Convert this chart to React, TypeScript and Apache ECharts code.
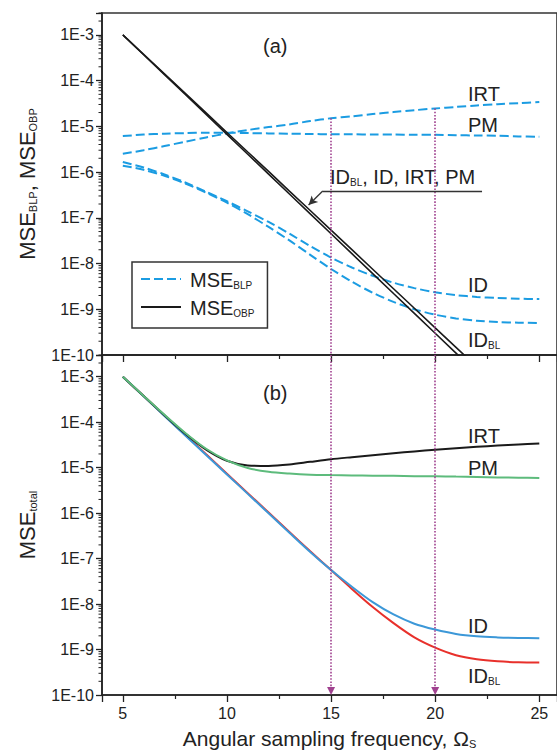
import React, { useEffect, useRef } from "react";
import * as echarts from "echarts";

// ---------- data ----------
const OMEGA = [5, 6, 7, 8, 9, 10, 11, 12, 13, 14, 15, 16, 17, 18, 19, 20, 21, 22, 23, 24, 25];

// (a) MSE_BLP (dashed blue)
const BLP_IRT = [2.5e-6, 3.0e-6, 3.7e-6, 4.6e-6, 5.7e-6, 7.0e-6, 8.3e-6, 9.6e-6, 1.1e-5, 1.3e-5, 1.5e-5, 1.65e-5, 1.85e-5, 2.05e-5, 2.25e-5, 2.45e-5, 2.65e-5, 2.85e-5, 3.05e-5, 3.2e-5, 3.4e-5];
const BLP_PM = [6.1e-6, 6.6e-6, 6.9e-6, 7.1e-6, 7.25e-6, 7.25e-6, 7.1e-6, 7.0e-6, 6.9e-6, 6.8e-6, 6.7e-6, 6.7e-6, 6.6e-6, 6.6e-6, 6.5e-6, 6.5e-6, 6.4e-6, 6.3e-6, 6.2e-6, 6.0e-6, 5.9e-6];
const BLP_ID = [1.66e-6, 1.26e-6, 8.9e-7, 5.9e-7, 3.7e-7, 2.3e-7, 1.38e-7, 8.1e-8, 4.5e-8, 2.4e-8, 1.35e-8, 8.2e-9, 5.4e-9, 3.8e-9, 2.9e-9, 2.35e-9, 2.04e-9, 1.86e-9, 1.76e-9, 1.7e-9, 1.67e-9];
const BLP_IDBL = [1.38e-6, 1.12e-6, 8.3e-7, 5.6e-7, 3.55e-7, 2.14e-7, 1.2e-7, 6.3e-8, 3.2e-8, 1.55e-8, 7.6e-9, 4.0e-9, 2.3e-9, 1.45e-9, 1.0e-9, 7.6e-10, 6.3e-10, 5.6e-10, 5.25e-10, 5.1e-10, 5.0e-10];

// (a) MSE_OBP (solid black, omega 5..22)
const OBP_A = [1e-3, 3.74e-4, 1.4e-4, 5.24e-5, 1.96e-5, 7.33e-6, 2.74e-6, 1.03e-6, 3.84e-7, 1.44e-7, 5.37e-8, 2.01e-8, 7.5e-9, 2.81e-9, 1.05e-9, 3.93e-10, 1.47e-10, 5.5e-11];
const OBP_B = [1e-3, 3.67e-4, 1.35e-4, 4.97e-5, 1.82e-5, 6.68e-6, 2.45e-6, 9.02e-7, 3.31e-7, 1.22e-7, 4.47e-8, 1.64e-8, 6.03e-9, 2.21e-9, 8.13e-10, 2.99e-10, 1.1e-10, 4.03e-11];

// (b) MSE_total
const TOT_IRT = [1.0e-3, 3.75e-4, 1.42e-4, 5.6e-5, 2.5e-5, 1.42e-5, 1.12e-5, 1.09e-5, 1.17e-5, 1.34e-5, 1.53e-5, 1.7e-5, 1.88e-5, 2.07e-5, 2.27e-5, 2.47e-5, 2.67e-5, 2.87e-5, 3.05e-5, 3.22e-5, 3.4e-5];
const TOT_PM = [1.0e-3, 3.78e-4, 1.45e-4, 5.8e-5, 2.6e-5, 1.44e-5, 9.8e-6, 8.1e-6, 7.4e-6, 7.0e-6, 6.85e-6, 6.75e-6, 6.65e-6, 6.6e-6, 6.5e-6, 6.45e-6, 6.35e-6, 6.25e-6, 6.1e-6, 6.0e-6, 5.9e-6];
const TOT_ID = [1.0e-3, 3.7e-4, 1.37e-4, 5.1e-5, 1.9e-5, 7.1e-6, 2.65e-6, 9.9e-7, 3.7e-7, 1.4e-7, 5.6e-8, 2.4e-8, 1.1e-8, 5.9e-9, 3.7e-9, 2.75e-9, 2.2e-9, 1.95e-9, 1.85e-9, 1.8e-9, 1.78e-9];
const TOT_IDBL = [1.0e-3, 3.75e-4, 1.4e-4, 5.25e-5, 1.96e-5, 7.35e-6, 2.75e-6, 1.03e-6, 3.85e-7, 1.45e-7, 5.6e-8, 2.15e-8, 8.6e-9, 3.8e-9, 1.85e-9, 1.1e-9, 7.5e-10, 6.1e-10, 5.5e-10, 5.25e-10, 5.2e-10];

// marked sampling frequencies
const MARKED_OMEGA = [15, 20];

// axis ranges / tick labels
const X_MIN = 4;
const X_MAX = 25.85;
const Y_MIN = 1e-10;
const Y_MAX = 3.0e-3;
const Y_DECADES = [-10, -9, -8, -7, -6, -5, -4, -3];
const MINOR_MULT = [2, 3, 4, 5, 6, 7, 8, 9];

// annotation anchor (data coords) for "ID_BL, ID, IRT, PM" leader
const LEADER = { xEnd: 22.25, xKnee: 14.6, yLine: 3.85e-7, xTip: 13.92, yTip: 1.9e-7 };

// ---------- styling ----------
const FONT = "'Liberation Sans', Arial, Helvetica, sans-serif";
const INK = "#222";
const BLUE_DASH = "#1b9ce2";
const BLUE = "#3c98d8";
const RED = "#e8302b";
const GREEN = "#5dbb7c";
const BLACK = "#1a1a1a";
const PURPLE = "#a0418f";

const richText = (main: number, sub: number, padLeft = 0) => ({
  m: { fontSize: main, lineHeight: main + 2, fontFamily: FONT, color: INK, verticalAlign: "bottom" },
  p: { fontSize: main, lineHeight: main + 2, fontFamily: FONT, color: INK, verticalAlign: "bottom", padding: [0, 0, 0, padLeft] },
  s: { fontSize: sub, lineHeight: sub, fontFamily: FONT, color: INK, verticalAlign: "bottom" },
});

const pairs = (xs: number[], ys: number[]) => ys.map((y, i) => [xs[i], y]);

const minorValues: number[] = [];
Y_DECADES.forEach((e) => MINOR_MULT.forEach((m) => {
  const v = m * Math.pow(10, e);
  if (v <= Y_MAX) minorValues.push(v);
}));

const yLabelFormatter = (v: number) => {
  const e = Math.log10(v);
  const r = Math.round(e);
  return Math.abs(e - r) < 1e-3 ? `1E${r}` : "";
};

const axisLineStyle = { color: INK, width: 1.6 };

function buildOption() {
  const xAxis = [0, 1].map((i) => ({
    type: "value",
    gridIndex: i,
    min: X_MIN,
    max: X_MAX,
    splitLine: { show: false },
    axisLine: { show: true, onZero: false, lineStyle: axisLineStyle },
    axisTick: { show: true, inside: false, length: 7, lineStyle: { color: INK, width: 1.3 } },
    minorTick: { show: true, splitNumber: 2, length: 4, lineStyle: { color: INK, width: 1.2 } },
    axisLabel: {
      show: i === 1,
      showMinLabel: false,
      showMaxLabel: false,
      fontSize: 16,
      fontFamily: FONT,
      color: INK,
      margin: 10,
    },
    name: i === 1 ? "{m|Angular sampling frequency, Ω}{s|S}" : "",
    nameLocation: "middle",
    nameGap: 31,
    nameTextStyle: { rich: richText(21, 11) },
  }));

  const yNames = ["{m|MSE}{s|BLP}{m|, MSE}{s|OBP}", "{m|MSE}{s|total}"];
  const yAxis = [0, 1].map((i) => ({
    type: "log",
    logBase: 10,
    gridIndex: i,
    min: Y_MIN,
    max: Y_MAX,
    splitLine: { show: false },
    axisLine: { show: true, onZero: false, lineStyle: axisLineStyle },
    axisTick: { show: true, inside: false, length: 6, lineStyle: { color: INK, width: 1.3 } },
    axisLabel: { formatter: yLabelFormatter, fontSize: 16, fontFamily: FONT, color: INK, margin: 8 },
    name: yNames[i],
    nameLocation: "middle",
    nameRotate: 90,
    nameGap: 64,
    nameTextStyle: { rich: richText(22, 11) },
  }));

  const dashed = (data: number[]) => ({
    type: "line",
    name: "MSE_BLP",
    xAxisIndex: 0,
    yAxisIndex: 0,
    data: pairs(OMEGA, data),
    symbol: "none",
    smooth: 0.3,
    color: BLUE_DASH,
    lineStyle: { color: BLUE_DASH, width: 2, type: [9, 4] },
    emphasis: { disabled: true },
    silent: true,
    z: 3,
  });

  const purpleLines = (fromTop: boolean) => ({
    silent: true,
    animation: false,
    symbol: fromTop ? ["none", "triangle"] : ["none", "none"],
    symbolSize: [8, 8],
    label: { show: false },
    emphasis: { disabled: true },
    lineStyle: { color: PURPLE, type: "dotted", width: 1.6 },
    data: MARKED_OMEGA.map((w) => {
      const idx = OMEGA.indexOf(w);
      return fromTop
        ? [{ coord: [w, Y_MAX] }, { coord: [w, Y_MIN * 1.22] }]
        : [{ coord: [w, BLP_IRT[idx]] }, { coord: [w, Y_MIN] }];
    }),
  });

  const irtTop = { ...dashed(BLP_IRT), markLine: purpleLines(false) };

  const solidBlack = (data: number[], withLeader: boolean) => ({
    type: "line",
    name: "MSE_OBP",
    xAxisIndex: 0,
    yAxisIndex: 0,
    data: pairs(OMEGA, data),
    symbol: "none",
    color: BLACK,
    lineStyle: { color: BLACK, width: 1.6 },
    emphasis: { disabled: true },
    silent: true,
    z: 4,
    markLine: withLeader
      ? {
          silent: true,
          animation: false,
          symbol: ["none", "none"],
          label: { show: false },
          emphasis: { disabled: true },
          lineStyle: { color: "#333", type: "solid", width: 1.3 },
          data: [
            [{ coord: [LEADER.xEnd, LEADER.yLine] }, { coord: [LEADER.xKnee, LEADER.yLine] }],
            [
              { coord: [LEADER.xKnee, LEADER.yLine] },
              { coord: [LEADER.xTip, LEADER.yTip], symbol: "arrow", symbolSize: [7, 9] },
            ],
          ],
        }
      : undefined,
  });

  const total = (name: string, data: number[], color: string, extra: any = {}) => ({
    type: "line",
    name,
    xAxisIndex: 1,
    yAxisIndex: 1,
    data: pairs(OMEGA, data),
    symbol: "none",
    smooth: 0.3,
    color,
    lineStyle: { color, width: 2 },
    emphasis: { disabled: true },
    silent: true,
    ...extra,
  });

  const minorTicks = (i: number) => ({
    type: "custom",
    xAxisIndex: i,
    yAxisIndex: i,
    silent: true,
    z: 10,
    data: minorValues.map((v) => [X_MIN, v]),
    renderItem: (_params: any, api: any) => {
      const p = api.coord([api.value(0), api.value(1)]);
      return {
        type: "line",
        shape: { x1: p[0] - 3.5, y1: p[1], x2: p[0], y2: p[1] },
        style: { stroke: INK, lineWidth: 1 },
      };
    },
  });

  const series: any[] = [
    irtTop,
    dashed(BLP_PM),
    dashed(BLP_ID),
    dashed(BLP_IDBL),
    solidBlack(OBP_A, true),
    solidBlack(OBP_B, false),
    total("ID_BL total", TOT_IDBL, RED),
    total("ID total", TOT_ID, BLUE),
    total("IRT total", TOT_IRT, BLACK, { markLine: purpleLines(true) }),
    total("PM total", TOT_PM, GREEN),
    minorTicks(0),
    minorTicks(1),
  ];

  const label = (x: number, y: number, text: string, size = 20) => ({
    type: "text",
    x,
    y,
    silent: true,
    style: {
      text,
      rich: richText(size, 10),
      align: "left",
      verticalAlign: "middle",
      fill: INK,
      font: `${size}px ${FONT}`,
    },
  });

  return {
    animation: false,
    backgroundColor: "#ffffff",
    grid: [
      { left: 102, top: 13, width: 460, height: 342, show: true, borderColor: "#333", borderWidth: 1.6, backgroundColor: "transparent" },
      { left: 102, top: 355, width: 460, height: 342, show: true, borderColor: "#333", borderWidth: 1.6, backgroundColor: "transparent" },
    ],
    xAxis,
    yAxis,
    legend: {
      data: ["MSE_BLP", "MSE_OBP"],
      orient: "vertical",
      left: 132,
      top: 262,
      itemWidth: 40,
      itemHeight: 14,
      itemGap: 8,
      padding: [8, 13, 10, 8],
      borderColor: "#333",
      borderWidth: 1.5,
      selectedMode: false,
      itemStyle: { opacity: 0 },
      formatter: (n: string) => (n === "MSE_BLP" ? "{p|MSE}{s|BLP}" : "{p|MSE}{s|OBP}"),
      textStyle: { rich: richText(20, 10, 4) },
    },
    graphic: [
      label(263, 45, "{m|(a)}"),
      label(468, 93, "{m|IRT}"),
      label(468, 124, "{m|PM}"),
      label(330, 176, "{m|ID}{s|BL}{m|, ID, IRT, PM}"),
      label(468, 284, "{m|ID}"),
      label(468, 339, "{m|ID}{s|BL}"),
      label(263, 392, "{m|(b)}"),
      label(468, 435, "{m|IRT}"),
      label(468, 467, "{m|PM}"),
      label(468, 625, "{m|ID}"),
      label(468, 675, "{m|ID}{s|BL}"),
    ],
    series,
  };
}

export default function App() {
  const ref = useRef<HTMLDivElement>(null);
  useEffect(() => {
    if (!ref.current) return;
    const chart = echarts.init(ref.current, null, { renderer: "svg" });
    chart.setOption(buildOption() as any);
    return () => chart.dispose();
  }, []);
  return (
    <div
      ref={ref}
      style={{ position: "absolute", left: 0, top: 0, width: 557, height: 750, background: "#fff" }}
    />
  );
}
